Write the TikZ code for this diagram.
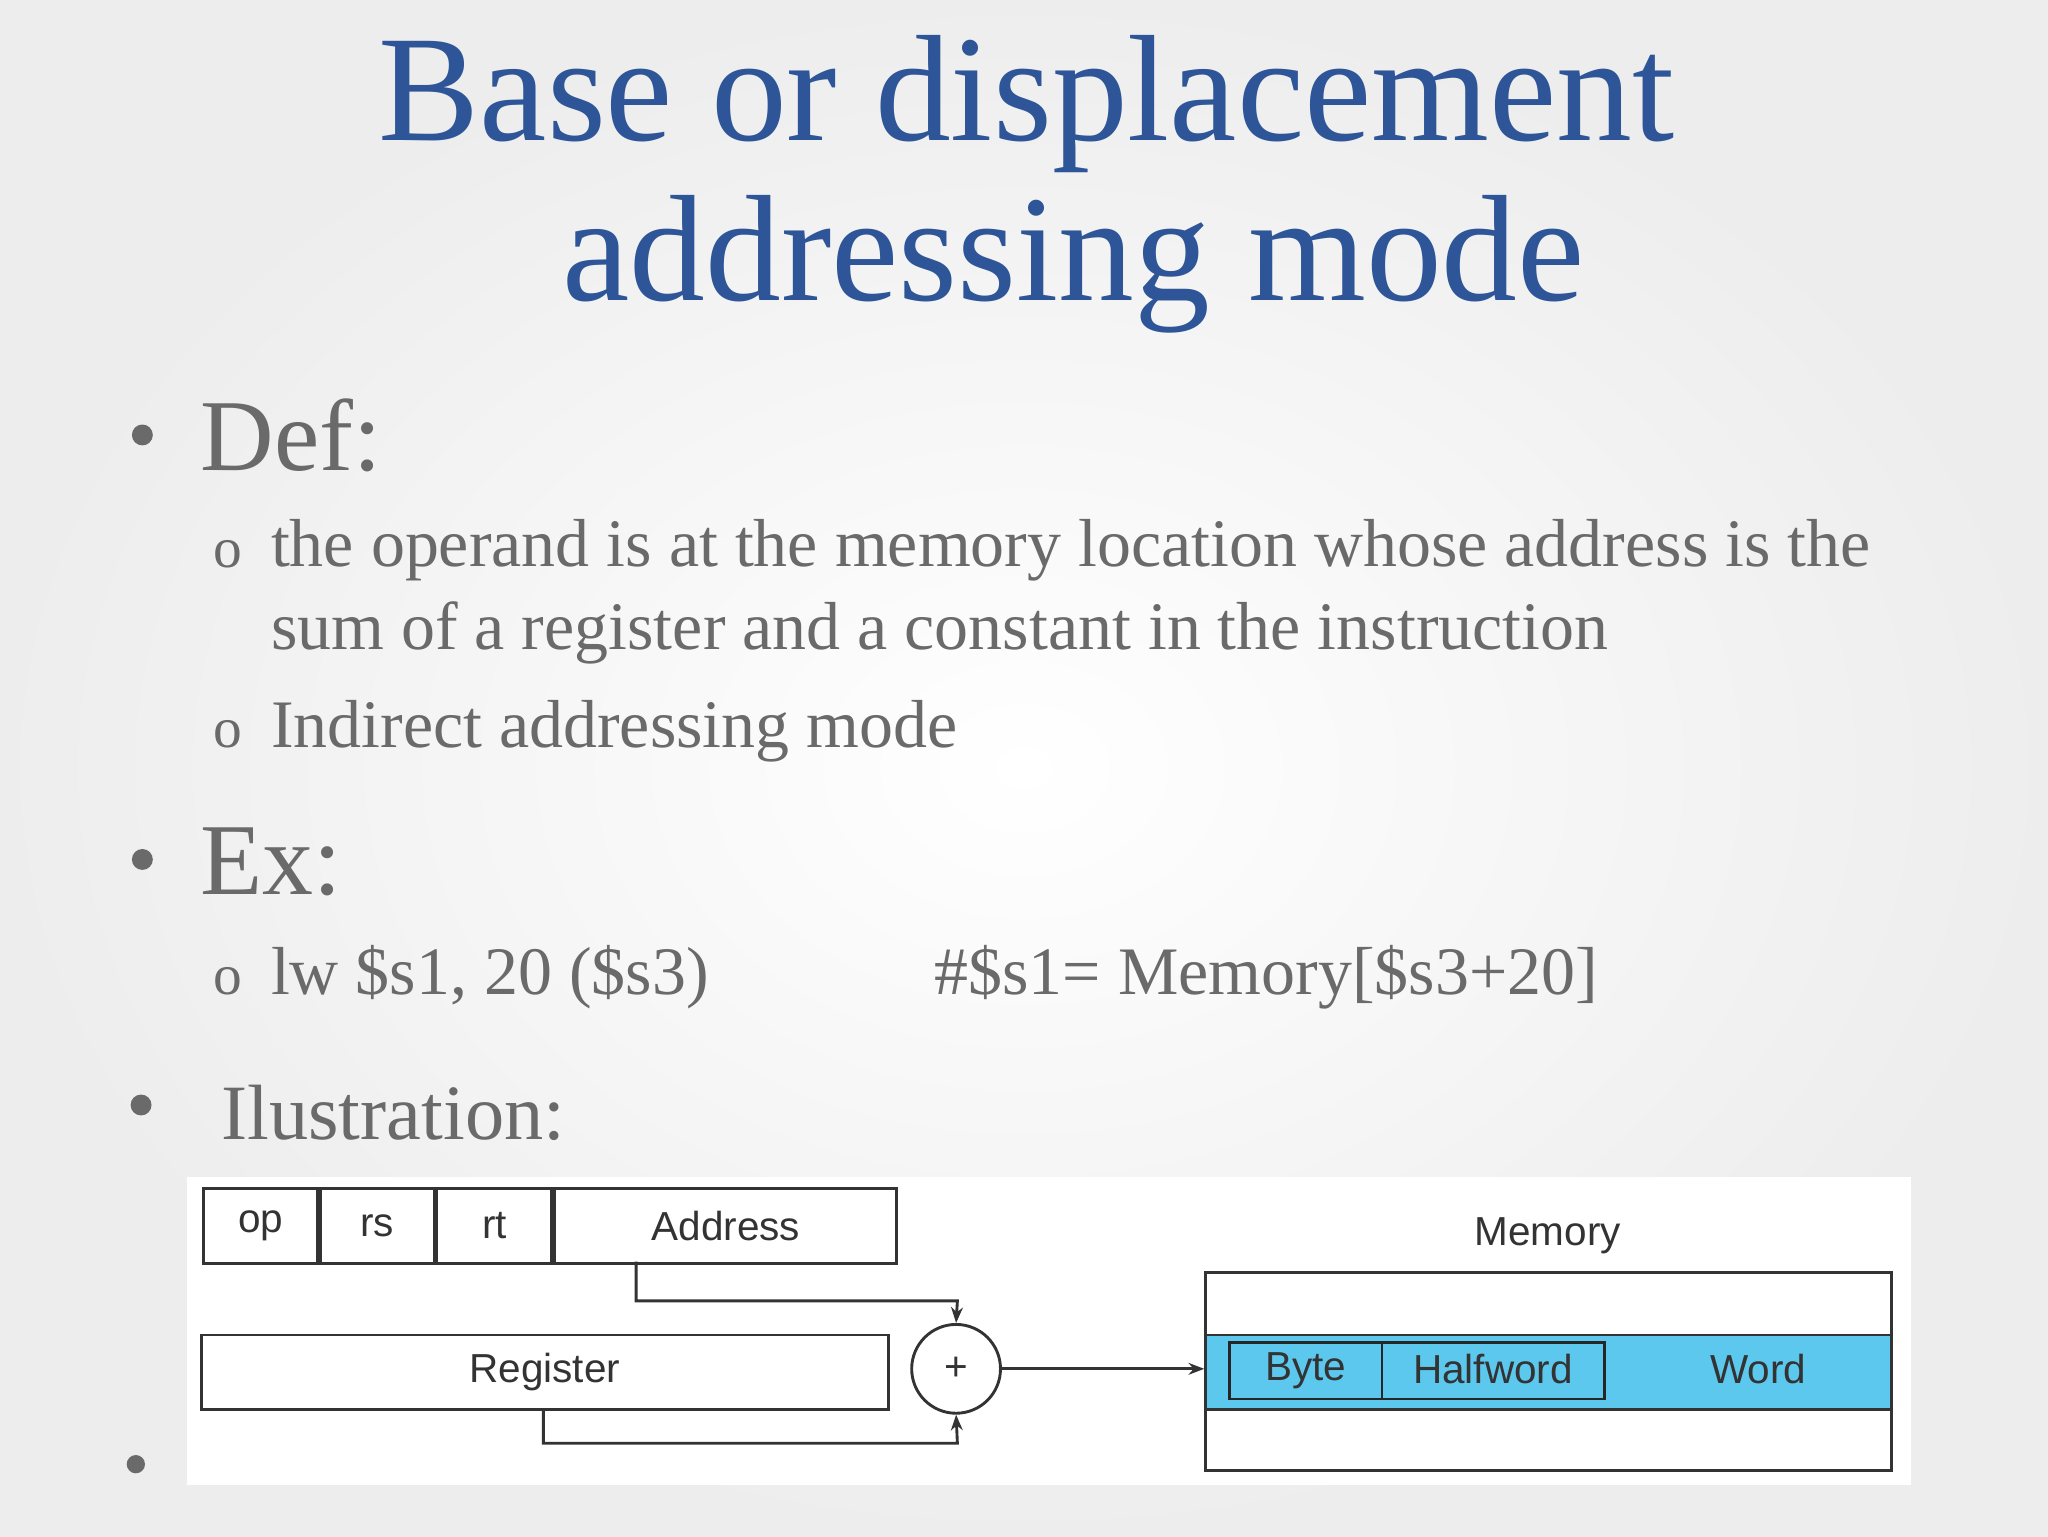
\documentclass[tikz,border=0pt]{standalone}
\usepackage{fontspec}
\setmainfont{Liberation Serif}
\newfontfamily\diag{Liberation Sans}
\usetikzlibrary{arrows.meta}
\definecolor{titleblue}{HTML}{2E5597}
\definecolor{txtgray}{HTML}{6A6A6A}
\definecolor{bandblue}{HTML}{5CC8EE}
\tikzset{
  fld/.style={draw=black!80,line width=2.2pt,minimum height=57pt,inner sep=0pt},
  dlab/.style={font=\diag\fontsize{31}{31}\selectfont,text=black!80},
  conn/.style={draw=black!80,line width=2.2pt},
  arr/.style={conn,-{Stealth[length=12pt,width=9pt]}},
  bul/.style={font=\fontsize{52}{60}\selectfont,text=txtgray,anchor=west}
}
\begin{document}
\begin{tikzpicture}[x=1pt,y=-1pt]
\useasboundingbox (0,0) rectangle (1568,1176);
\shade[inner color=white,outer color=black!7] (0,0) rectangle (1568,1176);
% title
\node[font=\fontsize{116}{116}\selectfont,text=titleblue] (t1) at (786,80) {Base or displacement};
\node[font=\fontsize{116}{116}\selectfont,text=titleblue] (t2) at (822,202) {addressing mode};
% bullets
\fill[txtgray] (109,333) circle (8);
\node[font=\fontsize{78}{80}\selectfont,text=txtgray,anchor=west] (def) at (150,333) {Def:};
\node[bul,font=\fontsize{44}{44}\selectfont] (o1) at (160,424) {o};
\node[bul,font=\fontsize{52}{64}\selectfont,align=left,anchor=north west] (d1) at (204,394) {the operand is at the memory location whose address is the\\sum of a register and a constant in the instruction};
\node[bul,font=\fontsize{44}{44}\selectfont] (o2) at (160,562) {o};
\node[bul,font=\fontsize{52}{60}\selectfont] (d2) at (204,560) {Indirect addressing mode};
\fill[txtgray] (109,658) circle (8);
\node[font=\fontsize{78}{80}\selectfont,text=txtgray,anchor=west] (ex) at (150,660) {Ex:};
\node[bul,font=\fontsize{44}{44}\selectfont] (o3) at (160,751) {o};
\node[bul,font=\fontsize{52}{60}\selectfont] (e1) at (204,748) {lw \$s1, 20 (\$s3)};
\node[bul,font=\fontsize{52}{60}\selectfont] (e2) at (712,748) {\#\$s1= Memory[\$s3+20]};
\fill[txtgray] (108,846) circle (8);
\node[font=\fontsize{60}{60}\selectfont,text=txtgray,anchor=west] (il) at (166,852) {Ilustration:};
\fill[txtgray] (104,1121) circle (7);
% diagram
\fill[white] (143,901) rectangle (1463,1137);
\node[fld,minimum width=87pt,anchor=north west,dlab] (op) at (155,909) {op};
\node[fld,minimum width=87pt,anchor=west,dlab] (rs) at (op.east) {rs};
\node[fld,minimum width=88pt,anchor=west,dlab] (rt) at (rs.east) {rt};
\node[fld,minimum width=262pt,anchor=west,dlab] (addr) at (rt.east) {Address};
\node[fld,minimum width=526pt,anchor=north west,dlab] (reg) at (153,1021) {Register};
\node[draw=black!80,line width=2.2pt,circle,minimum size=68pt,inner sep=0pt,dlab] (plus) at (732,1048) {+};
\node[draw=black!80,line width=2.2pt,minimum width=525pt,minimum height=152pt,anchor=north west,inner sep=0pt] (mem) at (922,973) {};
\node[fill=bandblue,draw=black!80,line width=2.2pt,minimum width=525pt,minimum height=57pt,anchor=north west,inner sep=0pt] (band) at (922,1021) {};
\node[draw=black!85,line width=2.2pt,minimum width=287pt,minimum height=43pt,anchor=north west,inner sep=0pt] (hw) at (940,1027) {};
\node[draw=black!85,line width=2.2pt,minimum width=117pt,minimum height=43pt,anchor=north west,inner sep=0pt,dlab] (byte) at (940,1027) {Byte};
\node[dlab] (hwl) at (1143,1048) {Halfword};
\node[dlab] (word) at (1346,1048) {Word};
\node[dlab] (meml) at (1185,946) {Memory};
\coordinate (a1) at (487,966);
\draw[arr] (a1) |- (733,996) -- (plus.north);
\coordinate (r1) at (416,1078);
\draw[arr] (r1) |- (733,1105) -- (plus.south);
\draw[arr] (plus.east) -- (plus.east -| band.west);
\end{tikzpicture}
\end{document}
